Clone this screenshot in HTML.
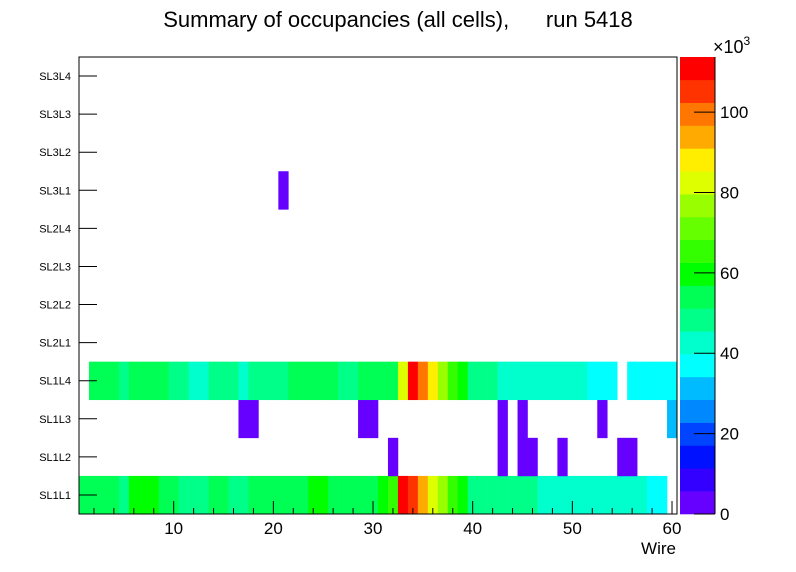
<!DOCTYPE html>
<html><head><meta charset="utf-8"><style>
html,body{margin:0;padding:0;background:#fff;}
svg{display:block;font-family:"Liberation Sans",sans-serif;}
</style></head><body>
<svg id="chart" width="796" height="572">
<rect x="0" y="0" width="796" height="572" fill="#fff"/>
<text x="398" y="27" font-size="22" text-anchor="middle">Summary of occupancies (all cells),&#160;&#160;&#160;&#160;&#160;&#160;run 5418</text>
<g id="cells"></g>
<g id="axes"></g>
<g id="cbar"></g>
</svg>
<script>
const layers = ["SL1L1","SL1L2","SL1L3","SL1L4","SL2L1","SL2L2","SL2L3","SL2L4","SL3L1","SL3L2","SL3L3","SL3L4"];
const xTicks = [10,20,30,40,50,60];
const zTicks = [0,20,40,60,80,100];
const zMax = 113.7;
const palette = ["#6600ff","#3300ff","#0011ff","#0044ff","#0088ff","#00bbff","#00ffff","#00ffcc","#00ff88","#00ff55","#00ff00","#33ff00","#66ff00","#99ff00","#ddff00","#ffee00","#ffaa00","#ff7700","#ff3300","#ff0000"];
// occupancy values (x10^3) per wire 1..60; 0 = empty
const rowSL1L1 = [54,54,54,54,48,60,60,60,54,54,48,48,48,54,54,48,48,54,54,54,54,54,54,60,60,54,54,54,54,54,60,65,111,105,94,82,77,65,60,48,48,48,48,48,48,48,43,43,43,43,43,43,43,43,43,43,43,37,37,0];
const rowSL1L2 = [0,0,0,0,0,0,0,0,0,0,0,0,0,0,0,0,0,0,0,0,0,0,0,0,0,0,0,0,0,0,0,3,0,0,0,0,0,0,0,0,0,0,3,0,3,3,0,0,3,0,0,0,0,0,3,3,0,0,0,0];
const rowSL1L3 = [0,0,0,0,0,0,0,0,0,0,0,0,0,0,0,0,3,3,0,0,0,0,0,0,0,0,0,0,3,3,0,0,0,0,0,0,0,0,0,0,0,0,3,0,3,0,0,0,0,0,0,0,3,0,0,0,0,0,0,31];
const rowSL1L4 = [0,54,54,54,48,54,54,54,54,48,48,43,43,48,48,48,43,48,48,48,48,54,54,54,54,54,48,48,54,54,54,54,82,111,99,88,77,65,60,48,48,48,43,43,43,43,43,43,43,43,43,37,37,37,0,37,37,37,37,37];
const rowSL3L1 = [0,0,0,0,0,0,0,0,0,0,0,0,0,0,0,0,0,0,0,0,3,0,0,0,0,0,0,0,0,0,0,0,0,0,0,0,0,0,0,0,0,0,0,0,0,0,0,0,0,0,0,0,0,0,0,0,0,0,0,0];
const rows = [[0,rowSL1L1],[1,rowSL1L2],[2,rowSL1L3],[3,rowSL1L4],[8,rowSL3L1]];

const X0=79,X1=677,Y0=57,Y1=514,NW=60,NL=12;
const xs = w => X0 + (w-0.5)*(X1-X0)/NW;
const ys = r => Y1 - r*(Y1-Y0)/NL;
const CB0=680,CB1=715;
const zs = z => Y1 - z*(Y1-Y0)/zMax;
const NS="http://www.w3.org/2000/svg";
function mk(tag, attrs, parent){const e=document.createElementNS(NS,tag);for(const k in attrs)e.setAttribute(k,attrs[k]);parent.appendChild(e);return e;}
const cells=document.getElementById('cells'), axes=document.getElementById('axes'), cbar=document.getElementById('cbar');
const colorOf = v => palette[Math.min(19,Math.max(0,Math.floor(v/zMax*20)))];

rows.forEach(([r,vals])=>{
  vals.forEach((v,i)=>{
    if(v<=0) return;
    const w=i+1;
    const c=mk('rect',{x:xs(w-0.5),y:ys(r+1),width:xs(w+0.5)-xs(w-0.5)+0.3,height:ys(r)-ys(r+1)+0.3,fill:colorOf(v)},cells);
    
    
  });
});

const frame=mk('rect',{x:X0,y:Y0,width:X1-X0,height:Y1-Y0,fill:'none',stroke:'#000','stroke-width':1},axes);



for(let w=2; w<=60; w+=2){
  const major = w%10===0;
  const t=mk('line',{x1:xs(w),x2:xs(w),y1:Y1,y2:Y1-(major?13:6),stroke:'#000','stroke-width':1},axes);
  
  
}
xTicks.forEach(v=>{
  const t=mk('text',{x:xs(v),y:534,'font-size':17,'text-anchor':'middle'},axes);
  t.textContent=v;
  
  
});
const xt=mk('text',{x:676,y:554,'font-size':17,'text-anchor':'end'},axes);
xt.textContent='Wire';



layers.forEach((n,r)=>{
  const yc=(ys(r)+ys(r+1))/2;
  const t=mk('line',{x1:X0,x2:X0+18,y1:yc,y2:yc,stroke:'#000','stroke-width':1},axes);
  
  
  const l=mk('text',{x:71,y:yc+4,'font-size':11,'text-anchor':'end'},axes);
  l.textContent=n;
  
  
});

for(let b=0;b<20;b++){
  const z0=b*zMax/20, z1=(b+1)*zMax/20;
  const s=mk('rect',{x:CB0,y:zs(z1),width:CB1-CB0,height:zs(z0)-zs(z1)+0.3,fill:palette[b]},cbar);
  
  
}
const cl=mk('line',{x1:CB1,x2:CB1,y1:Y0,y2:Y1,stroke:'#000','stroke-width':1},cbar);


zTicks.forEach(v=>{
  const t=mk('line',{x1:CB1-21,x2:CB1,y1:zs(v),y2:zs(v),stroke:'#000','stroke-width':1},cbar);
  
  
  const l=mk('text',{x:720,y:zs(v)+6,'font-size':17},cbar);
  l.textContent=v;
  
  
});
const ex=mk('text',{x:713,y:53,'font-size':18},cbar);
ex.innerHTML='×10<tspan dy="-8" font-size="12">3</tspan>';


</script>
</body></html>
